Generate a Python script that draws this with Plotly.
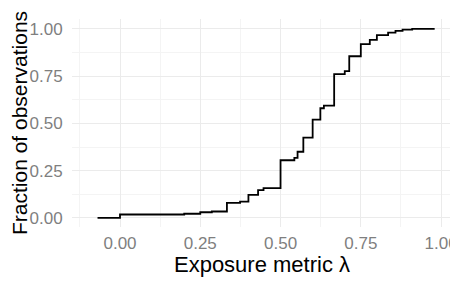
import plotly.graph_objects as go

# ECDF step data (x = exposure metric, y = cumulative fraction after step)
lam = [-0.07, 0.00, 0.20, 0.25, 0.286, 0.333, 0.374, 0.40, 0.43, 0.447, 0.50, 0.543, 0.553, 0.571,
       0.60, 0.624, 0.635, 0.667, 0.70, 0.714, 0.75, 0.778, 0.80, 0.835, 0.858, 0.88, 0.91, 0.98]
frac = [0.0, 0.018, 0.022, 0.030, 0.034, 0.080, 0.086, 0.122, 0.147, 0.158, 0.305, 0.318, 0.350, 0.425,
        0.520, 0.580, 0.594, 0.760, 0.776, 0.855, 0.919, 0.942, 0.967, 0.980, 0.989, 0.996, 1.0, 1.0]

x_ticks = [0.0, 0.25, 0.5, 0.75, 1.0]
x_labels = ["0.00", "0.25", "0.50", "0.75", "1.00"]
y_ticks = [0.0, 0.25, 0.5, 0.75, 1.0]
y_labels = ["0.00", "0.25", "0.50", "0.75", "1.00"]

fig = go.Figure()
fig.add_trace(go.Scatter(x=lam, y=frac, mode="lines", line=dict(color="black", width=1.8, shape="hv"),
                         showlegend=False, hoverinfo="skip"))

font = "Liberation Sans, Arial, Helvetica, sans-serif"
axis_common = dict(
    showline=False, zeroline=False, ticks="outside", tickcolor="rgba(0,0,0,0)",
    showgrid=True, automargin=False,
    gridcolor="#EBEBEB", gridwidth=1, ticklabeloverflow="allow",
    tickfont=dict(family=font, size=17, color="#7F7F7F"),
)
# page body has an 8px default margin: figure is 8px narrower and 16px shorter than the window
fig.update_layout(
    width=450, height=269,
    margin=dict(l=64, r=6, t=11, b=50),
    paper_bgcolor="white", plot_bgcolor="white",
    xaxis=dict(range=[-0.1495, 1.034], tickvals=x_ticks, ticktext=x_labels, ticklen=1,
               title=dict(text="Exposure metric λ", standoff=3,
                          font=dict(family=font, size=22, color="black")),
               minor=dict(tick0=0.125, dtick=0.25, showgrid=True, gridcolor="#F4F4F4", gridwidth=1, ticks=""),
               **axis_common),
    yaxis=dict(range=[-0.048, 1.052], tickvals=y_ticks, ticktext=y_labels, ticklen=5,
               title=dict(text="Fraction of observations", standoff=0,
                          font=dict(family=font, size=21, color="black")),
               minor=dict(tick0=0.125, dtick=0.25, showgrid=True, gridcolor="#F4F4F4", gridwidth=1, ticks=""),
               **axis_common),
)
fig.write_html("out.html")
